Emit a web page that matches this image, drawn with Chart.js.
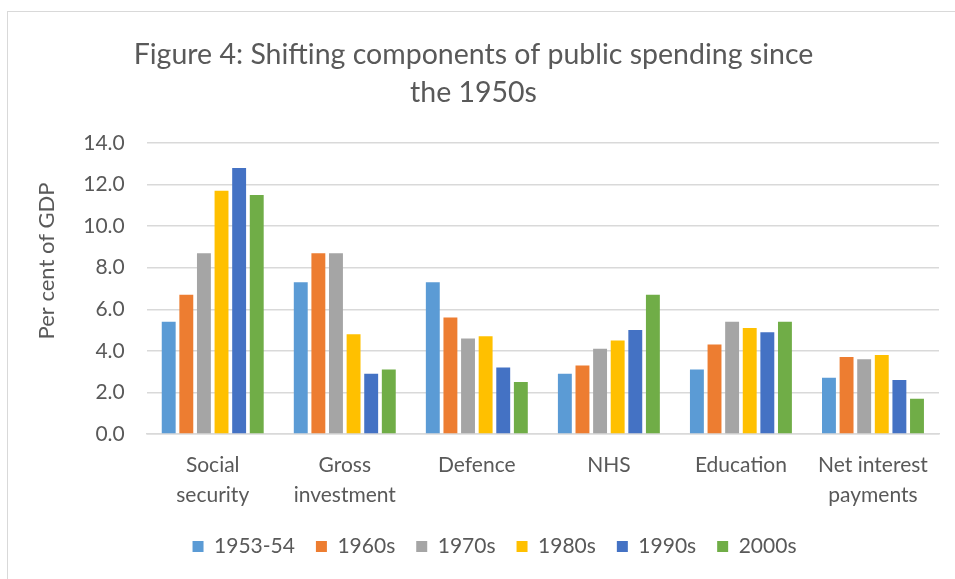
<!DOCTYPE html>
<html>
<head>
<meta charset="utf-8">
<script src="https://cdn.jsdelivr.net/npm/chart.js@4"></script>
<style>
  html, body { margin: 0; padding: 0; background: #fff; overflow: hidden; }
  #frame { position: absolute; left: 7px; top: 11px; width: 975px; height: 600px; border: 1px solid #d9d9d9; }
  canvas { display: block; }
</style>
</head>
<body>
<div id="frame"><canvas id="spend-chart" width="975" height="567"></canvas></div>
<script>
/* ===== DATA ===== */
const categories = [['Social', 'security'], ['Gross', 'investment'], 'Defence', 'NHS', 'Education', ['Net interest', 'payments']];
const seriesNames = ['1953-54', '1960s', '1970s', '1980s', '1990s', '2000s'];
const s1953 = [5.4, 7.3, 7.3, 2.9, 3.1, 2.7];
const s1960 = [6.7, 8.7, 5.6, 3.3, 4.3, 3.7];
const s1970 = [8.7, 8.7, 4.6, 4.1, 5.4, 3.6];
const s1980 = [11.7, 4.8, 4.7, 4.5, 5.1, 3.8];
const s1990 = [12.8, 2.9, 3.2, 5.0, 4.9, 2.6];
const s2000 = [11.5, 3.1, 2.5, 6.7, 5.4, 1.7];
const yTicks = [0, 2, 4, 6, 8, 10, 12, 14];

const colours = ['#5B9BD5', '#ED7D31', '#A5A5A5', '#FFC000', '#4472C4', '#70AD47'];
const FONT = 'Lato';
const GREY = '#595959';

// y axis title drawn by hand so it can sit a bit above centre, like Excel does
const yTitlePlugin = {
  id: 'yTitle',
  afterLayout(chart) {
    // Excel centres the legend on the whole chart frame, which runs off the right edge
    chart.legend.left += 21;
    chart.legend.right += 21;
  },
  afterDraw(chart) {
    const ctx = chart.ctx;
    ctx.save();
    ctx.translate(39, chart.chartArea.top + 118);
    ctx.rotate(-Math.PI / 2);
    ctx.fillStyle = GREY;
    ctx.font = '22px ' + FONT;
    ctx.textAlign = 'center';
    ctx.textBaseline = 'middle';
    ctx.fillText('Per cent of GDP', 0, 0);
    ctx.restore();
  }
};

const allSeries = [s1953, s1960, s1970, s1980, s1990, s2000];

new Chart(document.getElementById('spend-chart'), {
  type: 'bar',
  data: {
    labels: categories,
    datasets: allSeries.map((d, i) => ({
      label: seriesNames[i],
      data: d,
      backgroundColor: colours[i],
      borderWidth: 0,
      barPercentage: 0.79,
      categoryPercentage: 0.8
    }))
  },
  options: {
    responsive: false,
    animation: false,
    layout: { padding: { left: 0, right: 44, top: 0, bottom: 12 } },
    plugins: {
      title: {
        display: true,
        text: ['Figure 4: Shifting components of public spending since', 'the 1950s'],
        color: GREY,
        font: { family: FONT, size: 28.5, weight: 'normal', lineHeight: 1.333 },
        padding: { top: 24, bottom: 31 }
      },
      legend: {
        position: 'bottom',
        labels: { color: GREY, font: { family: FONT, size: 21 }, boxWidth: 11, boxHeight: 11, padding: 21 }
      },
      tooltip: { enabled: false }
    },
    scales: {
      x: {
        grid: { display: false, drawTicks: false },
        border: { display: true, color: '#d9d9d9', width: 1.5 },
        ticks: { color: GREY, font: { family: FONT, size: 21, lineHeight: 1.43 }, padding: 16, maxRotation: 0, autoSkip: false },
        afterFit(scale) { scale.height = 81; }
      },
      y: {
        min: 0,
        max: 14,
        afterBuildTicks(scale) { scale.ticks = yTicks.map(v => ({ value: v })); },
        grid: { color: '#d9d9d9', lineWidth: 1.5, drawTicks: false },
        border: { display: false },
        ticks: { color: GREY, font: { family: FONT, size: 21 }, padding: 22, callback: v => v.toFixed(1) },
        afterFit(scale) { scale.width = 138.7; }
      }
    }
  },
  plugins: [yTitlePlugin]
});
</script>
</body>
</html>
